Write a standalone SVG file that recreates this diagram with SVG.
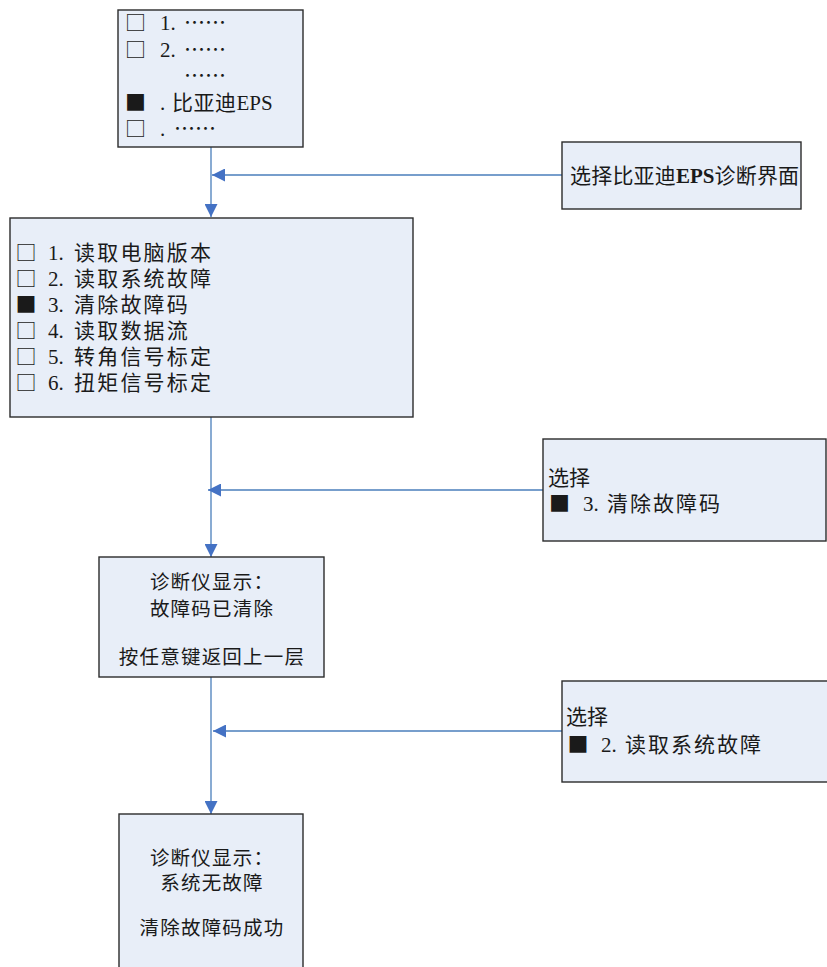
<svg xmlns="http://www.w3.org/2000/svg" width="827" height="967" viewBox="0 0 827 967">
<defs>
<style>
.box{fill:#E8EEF8;stroke:#2b2b2b;stroke-width:1.4}
.t{font-family:"Liberation Serif","Noto Sans CJK SC",serif;font-size:21px;fill:#1a1a1a}
.c{font-family:"Noto Sans CJK SC","Liberation Serif",sans-serif}
.wide{letter-spacing:2.2px}
.mid{letter-spacing:2px}
.s{font-size:19.5px;letter-spacing:1.2px}
.conn{stroke:#4A7EBB;stroke-width:1.3;fill:none}
</style>
<marker id="ah" markerUnits="userSpaceOnUse" markerWidth="13" markerHeight="13" refX="13" refY="6.5" orient="auto">
<path d="M0,0 L13,6.5 L0,13 z" fill="#4472C4"/>
</marker>
</defs>
<rect width="827" height="967" fill="#fff"/>

<g id="connectors">
<line class="conn" x1="211" y1="147" x2="211" y2="217" marker-end="url(#ah)"/>
<line class="conn" x1="562" y1="175" x2="212" y2="175" marker-end="url(#ah)"/>
<line class="conn" x1="211" y1="417" x2="211" y2="557" marker-end="url(#ah)"/>
<line class="conn" x1="543" y1="490" x2="208" y2="490" marker-end="url(#ah)"/>
<line class="conn" x1="211" y1="677" x2="211" y2="814" marker-end="url(#ah)"/>
<line class="conn" x1="562" y1="731" x2="213" y2="731" marker-end="url(#ah)"/>
</g>

<g id="menu-top">
<rect class="box" x="118" y="10" width="185" height="137"/>
<text class="t"><tspan class="c" x="125" y="30">□</tspan><tspan x="160" y="30">1.</tspan><tspan class="c" x="184" y="30">……</tspan></text>
<text class="t"><tspan class="c" x="125" y="57">□</tspan><tspan x="160" y="57">2.</tspan><tspan class="c" x="184" y="57">……</tspan></text>
<text class="t"><tspan class="c" x="184" y="83">……</tspan></text>
<text class="t"><tspan class="c" x="125" y="110">■</tspan><tspan x="160" y="110">.</tspan><tspan class="c" x="172" y="110" letter-spacing="0.5">比亚迪</tspan><tspan y="110">EPS</tspan></text>
<text class="t"><tspan class="c" x="125" y="136">□</tspan><tspan x="160" y="136">.</tspan><tspan class="c" x="174" y="136">……</tspan></text>
</g>

<g id="select-eps">
<rect class="box" x="562" y="142" width="239" height="67"/>
<text class="t" font-size="19.3"><tspan class="c" x="570" y="182.5" letter-spacing="0.2">选择比亚迪</tspan><tspan font-weight="bold" y="182.5">EPS</tspan><tspan class="c" y="182.5" letter-spacing="0.2">诊断界面</tspan></text>
</g>

<g id="menu-eps">
<rect class="box" x="10" y="218" width="403" height="199"/>
<text class="t"><tspan class="c" x="15.5" y="260">□</tspan><tspan x="48" y="260">1.</tspan><tspan class="c wide" x="74" y="260">读取电脑版本</tspan></text>
<text class="t"><tspan class="c" x="15.5" y="286">□</tspan><tspan x="48" y="286">2.</tspan><tspan class="c wide" x="74" y="286">读取系统故障</tspan></text>
<text class="t"><tspan class="c" x="15.5" y="312">■</tspan><tspan x="48" y="312">3.</tspan><tspan class="c wide" x="74" y="312">清除故障码</tspan></text>
<text class="t"><tspan class="c" x="15.5" y="338">□</tspan><tspan x="48" y="338">4.</tspan><tspan class="c wide" x="74" y="338">读取数据流</tspan></text>
<text class="t"><tspan class="c" x="15.5" y="364">□</tspan><tspan x="48" y="364">5.</tspan><tspan class="c wide" x="74" y="364">转角信号标定</tspan></text>
<text class="t"><tspan class="c" x="15.5" y="390">□</tspan><tspan x="48" y="390">6.</tspan><tspan class="c wide" x="74" y="390">扭矩信号标定</tspan></text>
</g>

<g id="select-clear">
<rect class="box" x="543" y="439" width="283" height="102"/>
<text class="t c" x="548" y="484.5" font-size="19.5">选择</text>
<text class="t"><tspan class="c" x="549" y="511">■</tspan><tspan x="583" y="511">3.</tspan><tspan class="c mid" x="607" y="511">清除故障码</tspan></text>
</g>

<g id="display-cleared">
<rect class="box" x="99" y="557" width="225" height="120"/>
<text class="t c s" x="212" y="589" text-anchor="middle">诊断仪显示：</text>
<text class="t c s" x="212" y="615.5" text-anchor="middle">故障码已清除</text>
<text class="t c s" x="212" y="663.5" text-anchor="middle">按任意键返回上一层</text>
</g>

<g id="select-read">
<rect class="box" x="562" y="681" width="270" height="101"/>
<text class="t c" x="566" y="724" font-size="19.5">选择</text>
<text class="t"><tspan class="c" x="567.5" y="752">■</tspan><tspan x="601" y="752">2.</tspan><tspan class="c mid" x="625" y="752">读取系统故障</tspan></text>
</g>

<g id="display-ok">
<rect class="box" x="119" y="814" width="184" height="160"/>
<text class="t c s" x="212" y="865" text-anchor="middle">诊断仪显示：</text>
<text class="t c s" x="212" y="890" text-anchor="middle">系统无故障</text>
<text class="t c s" x="212" y="935" text-anchor="middle">清除故障码成功</text>
</g>
</svg>
